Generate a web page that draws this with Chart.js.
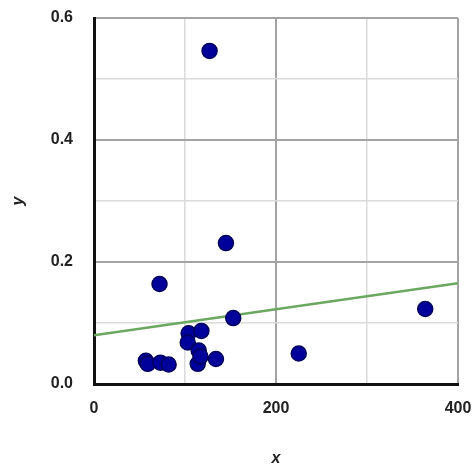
<!DOCTYPE html>
<html>
<head>
<meta charset="utf-8">
<script src="https://cdn.jsdelivr.net/npm/chart.js@4.4.1/dist/chart.umd.min.js"></script>
<style>
  html, body { margin: 0; padding: 0; background: #fff; }
  #wrap { width: 475px; height: 466px; }
</style>
</head>
<body>
<div id="wrap"><canvas id="scatterChart" width="475" height="466"></canvas></div>
<script>
const xValues = [127, 145, 72, 153, 364, 225, 104, 118, 103, 115, 114, 117, 134, 57, 59, 73, 82];
const yValues = [0.546, 0.231, 0.164, 0.108, 0.123, 0.050, 0.083, 0.087, 0.068, 0.055, 0.033, 0.045, 0.041, 0.038, 0.033, 0.035, 0.032];

// fitted line ends
const trendX = [0, 400];
const trendY = [0.080, 0.165];

const xTickLabels = ['0', '200', '400'];
const yTickLabels = ['0.0', '0.2', '0.4', '0.6'];

const points = xValues.map((x, i) => ({ x: x, y: yValues[i] }));
const trendPoints = trendX.map((x, i) => ({ x: x, y: trendY[i] }));

const tickFont = { family: '"Liberation Sans", Arial, sans-serif', size: 16, weight: 'bold' };

// no label overhang, so the layout padding alone sets the plot edges
const noOverhang = (scale) => {
    scale.paddingLeft = 0;
    scale.paddingRight = 0;
    scale.paddingTop = 0;
    scale.paddingBottom = 0;
};

const ctx = document.getElementById('scatterChart').getContext('2d');
window.scatterChart = new Chart(ctx, {
    type: 'scatter',
    data: {
        datasets: [
            {
                label: 'Trend',
                type: 'line',
                data: trendPoints,
                borderColor: '#6aa85f',
                borderWidth: 2.5,
                pointRadius: 0,
                fill: false,
                order: 2
            },
            {
                label: 'Data',
                data: points,
                backgroundColor: '#00009a',
                borderColor: '#00005e',
                borderWidth: 1.5,
                pointRadius: 7.5,
                order: 1
            }
        ]
    },
    options: {
        responsive: false,
        animation: false,
        layout: {
            padding: { top: 18, right: 17, left: 0, bottom: 0 }
        },
        scales: {
            x: {
                type: 'linear',
                min: 0,
                max: 400,
                afterFit: (scale) => { scale.height = 82; noOverhang(scale); },
                ticks: {
                    stepSize: 100,
                    autoSkip: false,
                    maxRotation: 0,
                    padding: 15,
                    color: '#222',
                    font: tickFont,
                    callback: (v) => (v % 200 === 0 ? xTickLabels[v / 200] : '')
                },
                grid: {
                    drawTicks: false,
                    color: (c) => (c.tick && c.tick.value % 200 === 0 ? '#a3a3a3' : '#dadada'),
                    lineWidth: (c) => (c.tick && c.tick.value % 200 === 0 ? 2 : 1.5)
                },
                border: { color: '#111', width: 3 },
                title: {
                    display: true,
                    text: 'x',
                    color: '#222',
                    font: { family: '"Liberation Sans", Arial, sans-serif', size: 16, weight: 'bold', style: 'italic' },
                    padding: { top: 0, bottom: -2 }
                }
            },
            y: {
                type: 'linear',
                min: 0,
                max: 0.6,
                afterFit: (scale) => { scale.width = 94; noOverhang(scale); },
                ticks: {
                    stepSize: 0.1,
                    autoSkip: false,
                    padding: 21,
                    color: '#222',
                    font: tickFont,
                    callback: (v) => {
                        const k = Math.round(v * 10);
                        return k % 2 === 0 ? yTickLabels[k / 2] : '';
                    }
                },
                grid: {
                    drawTicks: false,
                    color: (c) => (c.tick && Math.round(c.tick.value * 10) % 2 === 0 ? '#a3a3a3' : '#dadada'),
                    lineWidth: (c) => (c.tick && Math.round(c.tick.value * 10) % 2 === 0 ? 2 : 1.5)
                },
                border: { color: '#111', width: 3 },
                title: {
                    display: true,
                    text: 'y',
                    color: '#222',
                    font: { family: '"Liberation Sans", Arial, sans-serif', size: 16, weight: 'bold', style: 'italic' },
                    padding: { top: 9, bottom: 0 }
                }
            }
        },
        plugins: {
            legend: { display: false },
            tooltip: { enabled: false }
        }
    }
});
</script>
</body>
</html>
